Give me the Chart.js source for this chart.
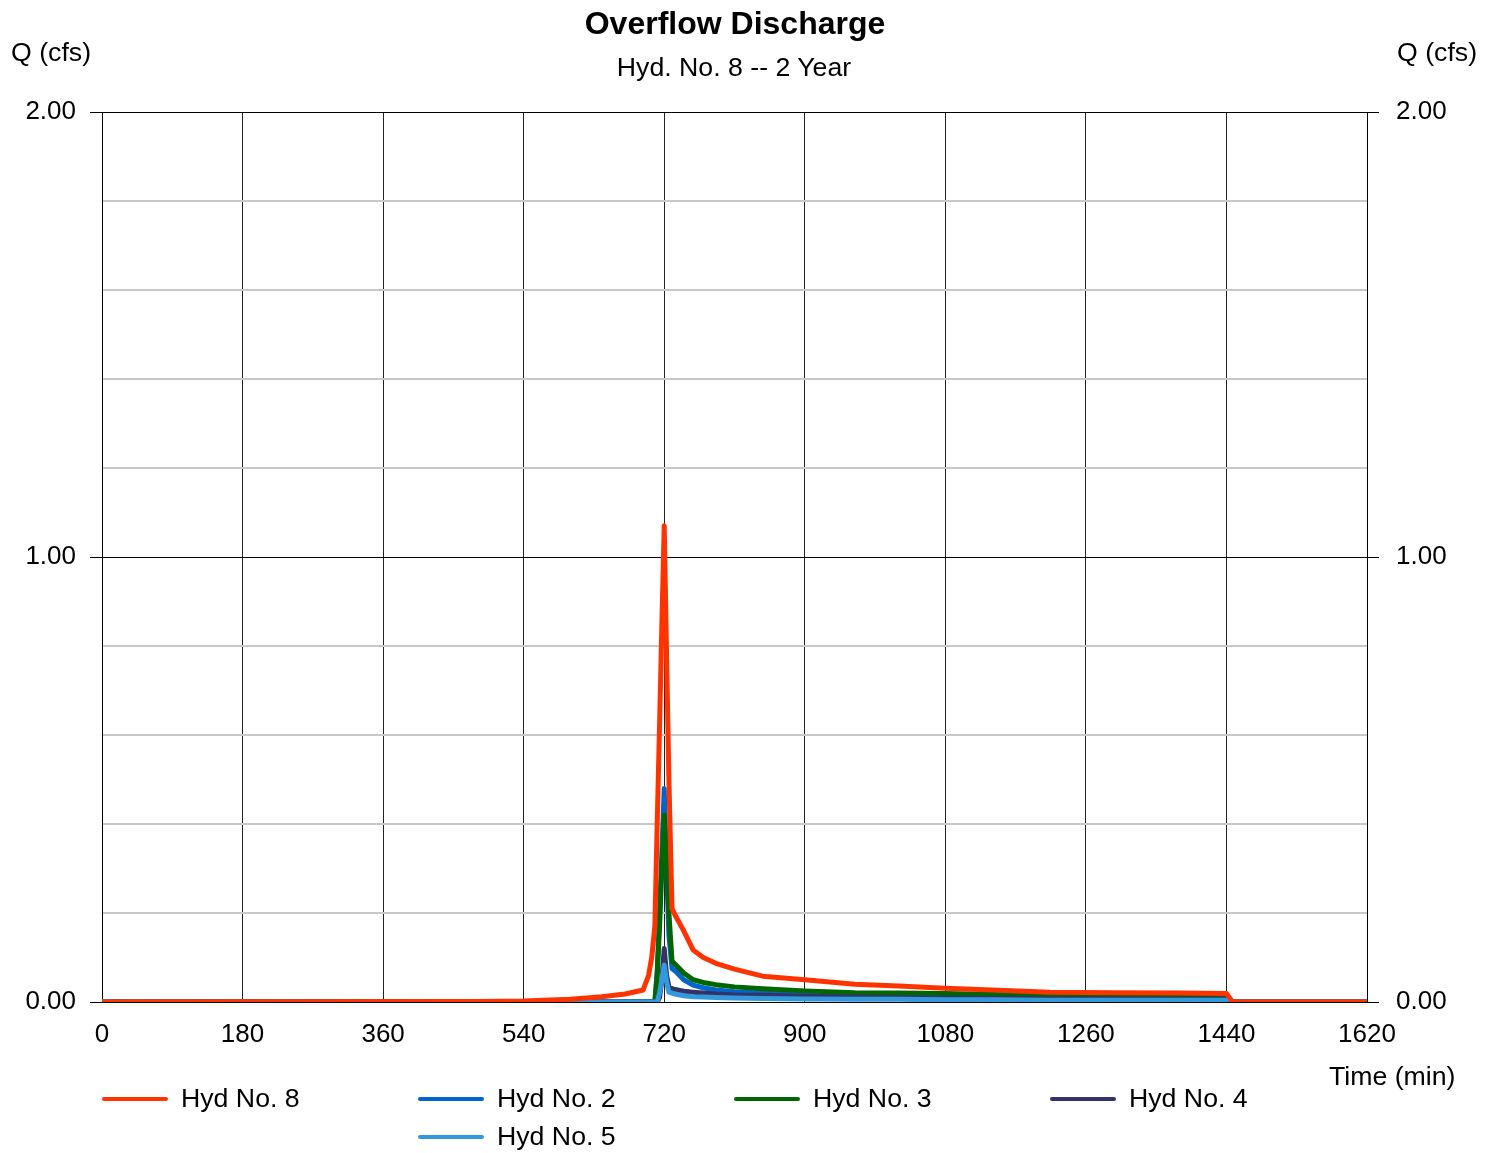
<!DOCTYPE html>
<html>
<head>
<meta charset="utf-8">
<title>Overflow Discharge</title>
<script src="https://cdn.jsdelivr.net/npm/chart.js@4.4.1/dist/chart.umd.min.js"></script>
<style>
  body { margin: 0; background: #fff; }
  #wrap { position: relative; width: 1494px; height: 1153px; font-family: "Liberation Sans", Arial, sans-serif; color: #000; }
  #chart { position: absolute; left: 0; top: 0; }
  .txt { position: absolute; white-space: nowrap; line-height: 1; }
  .leg { position: absolute; height: 30px; }
  .leg .swatch { position: absolute; left: 0; top: 13px; width: 66px; height: 4px; border-radius: 2px; }
  .leg .lab { position: absolute; left: 79px; top: 1px; font-size: 26.7px; line-height: 1; white-space: nowrap; }
</style>
</head>
<body>
<div id="wrap">
  <canvas id="chart" width="1494" height="1153"></canvas>
  <div class="txt" style="left:0;width:1470px;text-align:center;top:7px;font-size:32px;font-weight:bold;">Overflow Discharge</div>
  <div class="txt" style="left:0;width:1468px;text-align:center;top:54px;font-size:26.7px;">Hyd. No. 8 -- 2 Year</div>
  <div class="txt" style="left:11px;top:39px;font-size:26.7px;">Q (cfs)</div>
  <div class="txt" style="left:1397px;top:39px;font-size:26.7px;">Q (cfs)</div>
  <div class="txt" style="left:1329px;top:1063px;font-size:26.7px;">Time (min)</div>
  <div id="legend"></div>
</div>
<script>
// time (min)
const times = [0, 480, 540, 600, 640, 670, 693, 700, 704, 708,
               711, 714, 717, 720, 723, 726, 730, 734, 745, 757,
               770, 786, 810, 846, 900, 964, 1020, 1080, 1140, 1214,
               1300, 1380, 1440, 1448, 1620];

// Q (cfs)
const hyd8 = [0, 0.001, 0.002, 0.006, 0.012, 0.018, 0.027, 0.06, 0.1, 0.17,
              0.4, 0.62, 0.85, 1.07, 0.78, 0.5, 0.21, 0.195, 0.16, 0.117,
              0.1, 0.087, 0.074, 0.058, 0.05, 0.04, 0.036, 0.031, 0.027, 0.022,
              0.021, 0.02, 0.019, 0, 0];
const hyd2 = [0, 0, 0, 0, 0, 0, 0, 0, 0, 0,
              0.07, 0.2, 0.34, 0.48, 0.3, 0.15, 0.075, 0.07, 0.05, 0.038,
              0.032, 0.027, 0.023, 0.02, 0.015, 0.011, 0.01, 0.009, 0.008, 0.007,
              0.007, 0.006, 0.006, 0, 0];
const hyd3 = [0, 0, 0, 0, 0, 0, 0, 0, 0, 0,
              0.06, 0.17, 0.3, 0.42, 0.31, 0.2, 0.092, 0.085, 0.065, 0.05,
              0.044, 0.039, 0.034, 0.03, 0.025, 0.021, 0.02, 0.019, 0.017, 0.016,
              0.014, 0.012, 0.011, 0, 0];
const hyd4 = [0, 0, 0, 0, 0, 0, 0, 0, 0, 0,
              0, 0.01, 0.05, 0.12, 0.06, 0.035, 0.03, 0.028, 0.024, 0.022,
              0.02, 0.018, 0.016, 0.015, 0.013, 0.011, 0.01, 0.009, 0.008, 0.007,
              0.007, 0.006, 0.006, 0, 0];
const hyd5 = [0, 0, 0, 0, 0, 0, 0, 0, 0, 0,
              0, 0.02, 0.05, 0.083, 0.045, 0.022, 0.02, 0.018, 0.014, 0.012,
              0.011, 0.01, 0.009, 0.008, 0.007, 0.006, 0.006, 0.005, 0.005, 0.004,
              0.004, 0.004, 0.004, 0, 0];

const seriesNames = ['Hyd No. 8', 'Hyd No. 2', 'Hyd No. 3', 'Hyd No. 4', 'Hyd No. 5'];
const seriesValues = [hyd8, hyd2, hyd3, hyd4, hyd5];
const seriesColors = ['#ff3300', '#0066cc', '#006600', '#333366', '#3399dd'];
const drawOrder = [0, 4, 3, 2, 1]; // lower = drawn on top

const yTickLabels = ['0.00', '1.00', '2.00'];

Chart.defaults.font.family = '"Liberation Sans", Arial, sans-serif';
Chart.defaults.color = '#000';

function isMajor(v) {
    return Math.abs(v - Math.round(v)) < 1e-6;
}

const datasets = seriesNames.map(function (name, i) {
    return {
        label: name,
        data: times.map(function (t, k) { return { x: t, y: seriesValues[i][k] }; }),
        borderColor: seriesColors[i],
        backgroundColor: seriesColors[i],
        borderWidth: 5,
        borderJoinStyle: 'round',
        borderCapStyle: 'round',
        pointRadius: 0,
        tension: 0,
        fill: false,
        order: drawOrder[i]
    };
});

const yTicks = {
    stepSize: 0.2,
    font: { size: 26 },
    color: '#000',
    autoSkip: false,
    callback: function (v) { return isMajor(v) ? yTickLabels[Math.round(v)] : ''; }
};

new Chart(document.getElementById('chart').getContext('2d'), {
    type: 'line',
    data: { datasets: datasets },
    options: {
        responsive: false,
        animation: false,
        devicePixelRatio: 1,
        layout: { padding: { top: 112, left: 0, right: 0, bottom: 0 } },
        plugins: {
            legend: { display: false },
            title: { display: false },
            tooltip: { enabled: false }
        },
        scales: {
            x: {
                type: 'linear',
                min: 0,
                max: 1620,
                ticks: {
                    stepSize: 180, font: { size: 26 }, color: '#000', padding: 17, maxRotation: 0,
                    callback: function (v) { return String(v); }
                },
                grid: { color: '#222', lineWidth: 1, drawTicks: false },
                border: { color: '#000', width: 1 },
                afterFit: function (scale) { scale.height = 151; }
            },
            y: {
                position: 'left',
                min: 0,
                max: 2,
                ticks: Object.assign({ padding: 14 }, yTicks),
                grid: {
                    color: function (c) { return isMajor(c.tick.value) ? '#000' : '#c8c8c8'; },
                    lineWidth: function (c) { return isMajor(c.tick.value) ? 1 : 2; },
                    tickColor: function (c) { return isMajor(c.tick.value) ? '#000' : 'rgba(0,0,0,0)'; },
                    tickLength: 12,
                    tickWidth: 1
                },
                border: { color: '#000', width: 1 },
                afterFit: function (scale) { scale.width = 102; }
            },
            y2: {
                position: 'right',
                min: 0,
                max: 2,
                ticks: Object.assign({ padding: 17 }, yTicks),
                grid: {
                    drawOnChartArea: false,
                    tickColor: function (c) { return isMajor(c.tick.value) ? '#000' : 'rgba(0,0,0,0)'; },
                    tickLength: 12,
                    tickWidth: 1
                },
                border: { color: '#000', width: 1 },
                afterFit: function (scale) { scale.width = 127; }
            }
        }
    }
});

// legend: four columns, second row starts under the second column
const legendSlots = [[102, 1084], [418, 1084], [734, 1084], [1050, 1084], [418, 1122]];
const legend = document.getElementById('legend');
seriesNames.forEach(function (name, i) {
    const item = document.createElement('div');
    item.className = 'leg';
    item.style.left = legendSlots[i][0] + 'px';
    item.style.top = legendSlots[i][1] + 'px';
    item.innerHTML = '<div class="swatch" style="background:' + seriesColors[i] + '"></div><div class="lab">' + name + '</div>';
    legend.appendChild(item);
});
</script>
</body>
</html>
